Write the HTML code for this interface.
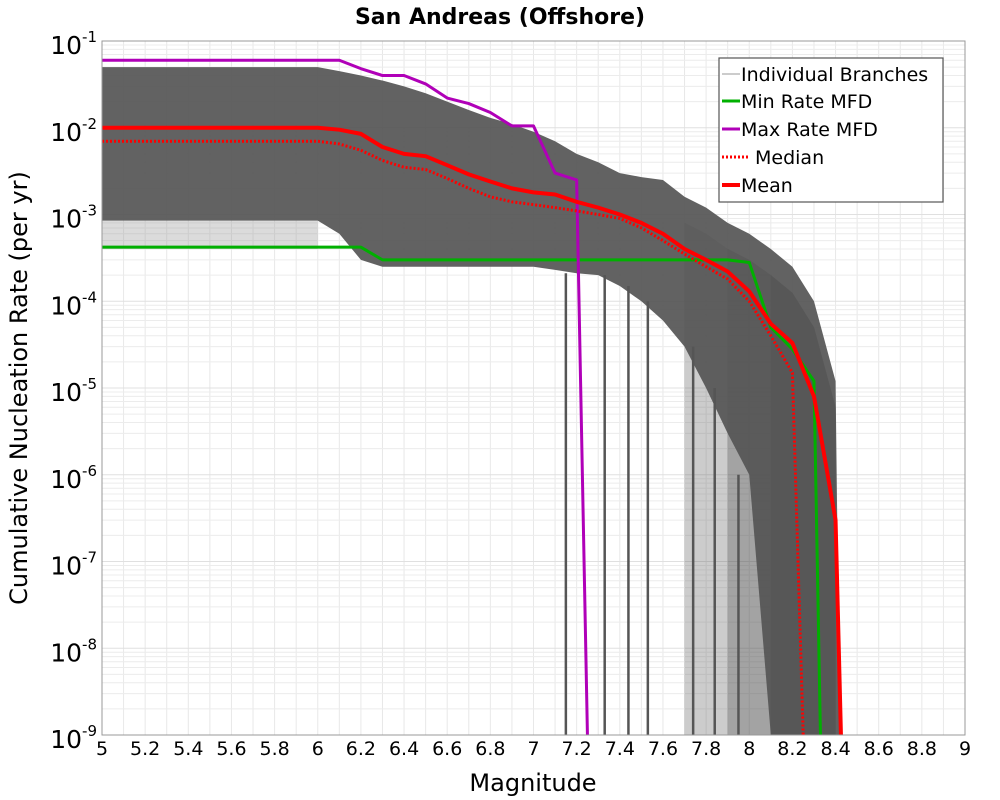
<!DOCTYPE html>
<html><head><meta charset="utf-8">
<style>
body{margin:0;background:#fff;}
svg{display:block;font-family:"Liberation Sans","DejaVu Sans",sans-serif;}
</style></head>
<body>
<svg id="chart" width="1000" height="800" viewBox="0 0 1000 800" xmlns="http://www.w3.org/2000/svg">
<rect x="0" y="0" width="1000" height="800" fill="#fff"/>
<text x="500" y="24" text-anchor="middle" font-size="22" font-weight="bold" font-family="DejaVu Sans, sans-serif">San Andreas (Offshore)</text>
<g id="grid"></g>
<g id="branches"></g>
<g id="series"></g>
<rect x="102" y="41" width="863" height="694" fill="none" stroke="#999" stroke-width="1"/>
<g id="axes" font-family="DejaVu Sans, sans-serif"></g>
<text x="533" y="791" text-anchor="middle" font-size="24" font-family="DejaVu Sans, sans-serif">Magnitude</text>
<text transform="translate(27,388) rotate(-90)" text-anchor="middle" font-size="24" font-family="DejaVu Sans, sans-serif">Cumulative Nucleation Rate (per yr)</text>
<g font-family="DejaVu Sans, sans-serif" font-size="19">
<rect x="719" y="58" width="224" height="144" fill="#fff" stroke="#555" stroke-width="1.2"/>
<g><line x1="722" y1="74" x2="740" y2="74" stroke="#bbb" stroke-width="1.5"/><text x="741" y="81">Individual Branches</text></g>
<g><line x1="722" y1="101" x2="740" y2="101" stroke="#00b000" stroke-width="3"/><text x="741" y="108">Min Rate MFD</text></g>
<g><line x1="722" y1="129" x2="740" y2="129" stroke="#b000b8" stroke-width="3"/><text x="741" y="136">Max Rate MFD</text></g>
<g><line x1="722" y1="157" x2="750" y2="157" stroke="#f00" stroke-width="3" stroke-dasharray="2,2"/><text x="755" y="164">Median</text></g>
<g><line x1="722" y1="185" x2="740" y2="185" stroke="#f00" stroke-width="4"/><text x="741" y="192">Mean</text></g>
</g>
</svg>
<script>
const mags = [5.0,5.1,5.2,5.3,5.4,5.5,5.6,5.7,5.8,5.9,6.0,6.1,6.2,6.3,6.4,6.5,6.6,6.7,6.8,6.9,7.0,7.1,7.2,7.3,7.4,7.5,7.6,7.7,7.8,7.9,8.0,8.1,8.2,8.3,8.4];
const meanVals = [0.01,0.01,0.01,0.01,0.01,0.01,0.01,0.01,0.01,0.01,0.01,0.0095,0.0085,0.006,0.005,0.0047,0.0037,0.0029,0.0024,0.002,0.0018,0.0017,0.0014,0.0012,0.001,0.0008,0.0006,0.0004,0.0003,0.00022,0.00013,5.5e-5,3.3e-5,8e-6,3e-7];
const meanTail = [[8.425,1e-9]];
const medianVals = [0.007,0.007,0.007,0.007,0.007,0.007,0.007,0.007,0.007,0.007,0.007,0.0065,0.0055,0.0042,0.0035,0.0033,0.0026,0.002,0.0016,0.0014,0.0013,0.0012,0.0011,0.001,0.0009,0.0007,0.0005,0.00035,0.00025,0.00018,0.0001,4e-5,1.5e-5];
const medianTail = [[8.25,1e-9]];
const minVals = [0.00042,0.00042,0.00042,0.00042,0.00042,0.00042,0.00042,0.00042,0.00042,0.00042,0.00042,0.00042,0.00042,0.0003,0.0003,0.0003,0.0003,0.0003,0.0003,0.0003,0.0003,0.0003,0.0003,0.0003,0.0003,0.0003,0.0003,0.0003,0.0003,0.0003,0.00028,5e-5,2.8e-5,1.2e-5];
const minTail = [[8.33,1e-9]];
const maxVals = [0.06,0.06,0.06,0.06,0.06,0.06,0.06,0.06,0.06,0.06,0.06,0.06,0.048,0.04,0.04,0.032,0.022,0.019,0.015,0.0105,0.0105,0.003,0.0025];
const maxTail = [[7.25,1e-9]];
const bandUpper = [0.05,0.05,0.05,0.05,0.05,0.05,0.05,0.05,0.05,0.05,0.05,0.045,0.04,0.035,0.03,0.025,0.02,0.016,0.013,0.011,0.009,0.007,0.005,0.004,0.003,0.0027,0.0025,0.0016,0.0012,0.0008,0.0006,0.0004,0.00025,0.0001,1.2e-5];
const bandLower = [0.00085,0.00085,0.00085,0.00085,0.00085,0.00085,0.00085,0.00085,0.00085,0.00085,0.00085,0.0006,0.0003,0.00025,0.00025,0.00025,0.00025,0.00025,0.00025,0.00025,0.00025,0.00023,0.00021,0.0002,0.00015,0.0001,6e-5,3e-5,1e-5,3e-6,1e-6,1e-9];
const dropMags = [7.15,7.33,7.44,7.53,7.74,7.84,7.95,8.05,8.12,8.17,8.28];
const xTicks = [5,5.2,5.4,5.6,5.8,6,6.2,6.4,6.6,6.8,7,7.2,7.4,7.6,7.8,8,8.2,8.4,8.6,8.8,9];
const xTickLabels = ["5","5.2","5.4","5.6","5.8","6","6.2","6.4","6.6","6.8","7","7.2","7.4","7.6","7.8","8","8.2","8.4","8.6","8.8","9"];
const yExps = [-1,-2,-3,-4,-5,-6,-7,-8,-9];

const NS="http://www.w3.org/2000/svg";
const X0=102,X1=965,Y0=41,Y1=735;
function xs(m){return X0+(m-5)/4*(X1-X0);}
function ys(v){return Y0+(-1-Math.log10(v))/8*(Y1-Y0);}
function mk(tag,parent){const e=document.createElementNS(NS,tag);parent.appendChild(e);return e;}
const grid=document.getElementById('grid'),br=document.getElementById('branches'),ser=document.getElementById('series'),ax=document.getElementById('axes');

for(let i=0;i<=40;i++){const m=5+i*0.1;const l=mk('line',grid);


l.setAttribute('x1',xs(m));l.setAttribute('x2',xs(m));l.setAttribute('y1',Y0);l.setAttribute('y2',Y1);l.setAttribute('stroke','#e8e8e8');}
for(let e=-9;e<-1;e++){for(let k=1;k<10;k++){const v=k*Math.pow(10,e);const l=mk('line',grid);


l.setAttribute('x1',X0);l.setAttribute('x2',X1);l.setAttribute('y1',ys(v));l.setAttribute('y2',ys(v));l.setAttribute('stroke',k==1?'#e0e0e0':'#ececec');}}

function poly(up,low,fill,op,name){let pts=[];up.forEach((v,i)=>pts.push(xs(mags[i])+','+ys(v)));
for(let i=low.length-1;i>=0;i--)pts.push(xs(mags[i])+','+ys(low[i]));
const p=mk('polygon',br);


p.setAttribute('points',pts.join(' '));p.setAttribute('fill',fill);p.setAttribute('fill-opacity',op);}
// top light band
poly(bandUpper.slice(0,11).map(v=>v*1.15).concat(bandUpper.slice(11)), bandUpper.map(()=>1e-9).slice(0,bandUpper.length), '#fff',0,'spacer');
// main dark band
(function(){let pts=[];bandUpper.forEach((v,i)=>pts.push(xs(mags[i])+','+ys(v)));
pts.push(xs(8.42)+','+ys(1e-9));
for(let i=bandLower.length-1;i>=0;i--)pts.push(xs(mags[i])+','+ys(bandLower[i]));
const p=mk('polygon',br);


p.setAttribute('points',pts.join(' '));p.setAttribute('fill','#555');p.setAttribute('fill-opacity','0.92');})();
// light lower band at left
(function(){const p=mk('rect',br);


p.setAttribute('x',X0);p.setAttribute('y',ys(0.00085));p.setAttribute('width',xs(6.0)-X0);p.setAttribute('height',ys(0.0004)-ys(0.00085));p.setAttribute('fill','#999');p.setAttribute('fill-opacity','0.35');})();
// tail regions
function tail(m0,m1,op,name){let pts=[];mags.forEach((m,i)=>{if(m>=m0&&m<=m1)pts.push(xs(m)+','+ys(bandUpper[i]*0.5));});
pts.push(xs(m1)+','+Y1);pts.push(xs(m0)+','+Y1);
const p=mk('polygon',br);


p.setAttribute('points',pts.join(' '));p.setAttribute('fill','#555');p.setAttribute('fill-opacity',op);}
tail(7.7,8.4,0.3,'branch-tail-light');
tail(7.9,8.4,0.35,'branch-tail-mid');
tail(8.1,8.4,0.6,'branch-tail-dark');
dropMags.forEach(m=>{const i=Math.round((m-5)*10);const l=mk('line',br);


l.setAttribute('x1',xs(m));l.setAttribute('x2',xs(m));l.setAttribute('y1',ys(bandLower[Math.min(i,bandLower.length-1)]||1e-5));l.setAttribute('y2',Y1);l.setAttribute('stroke','#555');l.setAttribute('stroke-width','2.5');});

function line(vals,tailPts,color,w,dash,name){let pts=vals.map((v,i)=>xs(mags[i])+','+ys(v));tailPts.forEach(t=>pts.push(xs(t[0])+','+Math.min(ys(t[1]),Y1)));
const p=mk('polyline',ser);


p.setAttribute('points',pts.join(' '));p.setAttribute('fill','none');p.setAttribute('stroke',color);p.setAttribute('stroke-width',w);p.setAttribute('stroke-linejoin','round');if(dash)p.setAttribute('stroke-dasharray',dash);}
line(minVals,minTail,'#00b000',3,null,'min-rate-line');
line(maxVals,maxTail,'#b000b8',3,null,'max-rate-line');
line(medianVals,medianTail,'#f00',3,'2,2','median-line');
line(meanVals,meanTail,'#f00',4,null,'mean-line');

xTicks.forEach((m,i)=>{const t=mk('text',ax);


t.setAttribute('x',xs(m));t.setAttribute('y',Y1+20);t.setAttribute('text-anchor','middle');t.setAttribute('font-size','19');t.textContent=xTickLabels[i];});
yExps.forEach(e=>{const t=mk('text',ax);


t.setAttribute('x',97);t.setAttribute('y',ys(Math.pow(10,e))+13);t.setAttribute('text-anchor','end');t.setAttribute('font-size','25');
t.textContent='10';const s=mk('tspan',t);s.setAttribute('dy','-12');s.setAttribute('font-size','15');s.textContent=String(e).replace('-','-');});
</script>
</body></html>
